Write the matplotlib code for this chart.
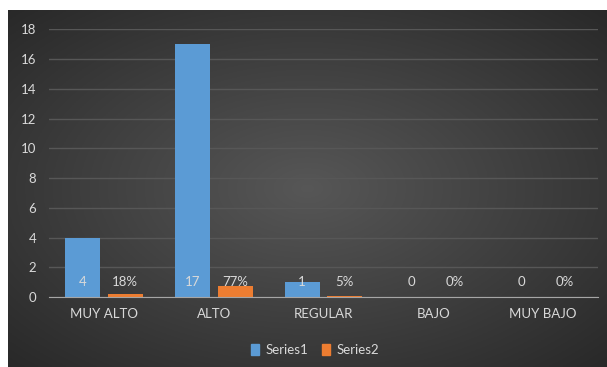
import matplotlib

matplotlib.use("Agg")

import numpy as np
from matplotlib import pyplot as plt
from matplotlib.patches import Patch

categories = ["MUY ALTO", "ALTO", "REGULAR", "BAJO", "MUY BAJO"]
series1 = [4, 17, 1, 0, 0]
series2 = [0.18, 0.77, 0.05, 0.0, 0.0]
series1_labels = ["4", "17", "1", "0", "0"]
series2_labels = ["18%", "77%", "5%", "0%", "0%"]
y_ticks = [0, 2, 4, 6, 8, 10, 12, 14, 16, 18]

TEXT = "#d9d9d9"
BLUE = "#5b9bd5"
ORANGE = "#ed7d31"

plt.rcParams["font.family"] = ["Lato", "DejaVu Sans"]

fig = plt.figure(figsize=(6.07, 3.67), dpi=100)
fig.patch.set_facecolor("white")

# dark panel with radial gradient, like the office chart style
bg = fig.add_axes([8 / 607, 0, 1 - 8 / 607, 1 - 10 / 367])
yy, xx = np.mgrid[-1:1:200j, -1:1:300j]
r = np.sqrt(xx ** 2 + yy ** 2) / np.sqrt(2)
grad = 0.34 - 0.18 * r
bg.imshow(np.dstack([grad, grad, grad]), aspect="auto", extent=[0, 1, 0, 1])
bg.set_axis_off()

ax = fig.add_axes([49 / 607, 1 - 297 / 367, (598 - 49) / 607, (297 - 29.5) / 367])
ax.patch.set_alpha(0)

x = np.arange(len(categories))
width = 0.32
off = 0.195
ax.bar(x - off, series1, width, color=BLUE, zorder=3)
ax.bar(x + off, series2, width, color=ORANGE, zorder=3)

for xi, lab in zip(x, series1_labels):
    ax.text(xi - off, 1.0, lab, ha="center", va="center", color=TEXT, fontsize=9.5, zorder=4)
for xi, lab in zip(x, series2_labels):
    ax.text(xi + off, 1.0, lab, ha="center", va="center", color=TEXT, fontsize=9.5, zorder=4)

ax.set_xlim(-0.5, len(categories) - 0.5)
ax.set_ylim(0, 18)
ax.set_yticks(y_ticks)
ax.set_xticks(x)
ax.set_xticklabels(categories)
ax.yaxis.grid(True, color="#575757", linewidth=1.0, zorder=0)
ax.set_axisbelow(True)
for name in ("top", "right", "left"):
    ax.spines[name].set_visible(False)
ax.spines["bottom"].set_color("#a6a6a6")
ax.spines["bottom"].set_zorder(5)
ax.tick_params(axis="both", length=0, colors=TEXT, labelsize=9.5)
ax.tick_params(axis="x", pad=8)
ax.tick_params(axis="y", pad=9)

handles = [Patch(color=BLUE, label="Series1"), Patch(color=ORANGE, label="Series2")]
fig.legend(handles=handles, loc="center", bbox_to_anchor=(315 / 607, 1 - 350 / 367), ncol=2,
           frameon=False, fontsize=9.5, labelcolor=TEXT, handlelength=0.6, handleheight=0.9,
           handletextpad=0.5, columnspacing=1.0)

fig.savefig("out.png", dpi=100, facecolor="white")
